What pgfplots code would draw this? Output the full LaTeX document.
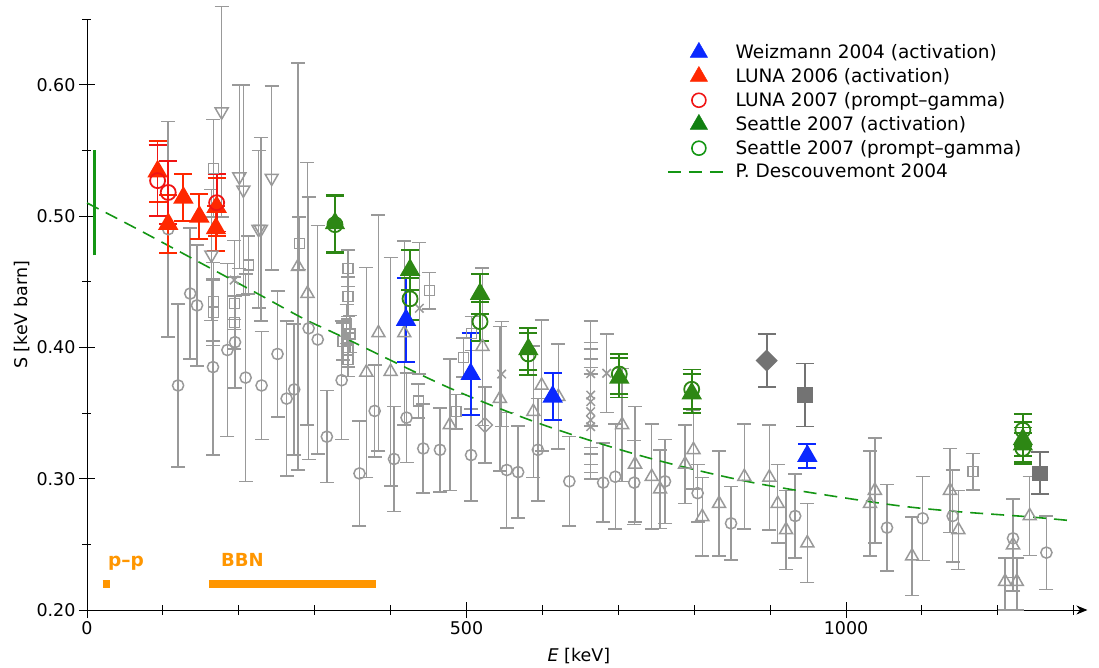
\documentclass[border=0pt]{standalone}
\usepackage{fontspec}
\setmainfont{DejaVu Sans}
\usepackage{pgfplots}
\pgfplotsset{compat=1.18}
\usetikzlibrary{arrows.meta}
\definecolor{wblue}{RGB}{10,40,255}
\definecolor{lunaA}{RGB}{255,40,0}
\definecolor{lunaP}{RGB}{240,20,20}
\definecolor{seat}{RGB}{45,135,20}
\definecolor{desc}{RGB}{20,150,20}
\definecolor{gr}{RGB}{153,153,153}
\definecolor{dgr}{RGB}{115,115,115}
\definecolor{org}{RGB}{255,150,0}
\pgfplotsset{
  markleg/.style={legend image code/.code={\draw[mark repeat=2,mark phase=2,##1] plot coordinates {(0pt,0pt)(31pt,0pt)(56pt,0pt)};}},
  lineleg/.style={legend image code/.code={\draw[##1] (0pt,0pt) -- (56pt,0pt);}},
  gbar/.style={error bars/.cd, error bar style={line width=1.5pt, gr}, error mark options={gr, rotate=90, mark size=7pt, line width=1.5pt}},
  cbar/.style={error bars/.cd, error bar style={line width=1.8pt, #1}, error mark options={#1, rotate=90, mark size=9pt, line width=1.8pt}},
}
\begin{document}
\begin{tikzpicture}[font=\fontsize{17.5}{21}\selectfont]
\useasboundingbox (-87pt,-58pt) rectangle (1012pt,610pt);
\begin{axis}[
  at={(0pt,0pt)}, anchor=south west,
  scale only axis, width=1000.4pt, height=590.85pt,
  xmin=0, xmax=1318, ymin=0.2, ymax=0.65,
  axis x line=bottom, axis y line=left,
  x axis line style={-{Stealth[length=11pt,width=9pt]}},
  y axis line style={-},
  axis line style={line width=0.9pt},
  xtick={0,500,1000}, xticklabels={0,500,1000},
  minor xtick={100,200,300,400,600,700,800,900,1100,1200,1300},
  ytick={0.2,0.3,0.4,0.5,0.6}, yticklabels={0.20,0.30,0.40,0.50,0.60},
  minor ytick={0.25,0.35,0.45,0.55,0.65},
  tick align=center, major tick length=16pt, minor tick length=9pt,
  tick style={black, line width=0.9pt},
  clip=false,
  xlabel={\textit{E} [keV]},
  xlabel style={at={(axis cs:648,0.2)}, anchor=base, yshift=-52pt, inner sep=0pt},
  ylabel={S [keV barn]},
  ylabel style={at={(axis cs:-79,0.4247)}, anchor=base, inner sep=0pt},
  legend style={draw=none, fill=none, at={(axis cs:764,0.6325)}, anchor=north west, row sep=4.3pt, inner sep=0pt,
    font=\fontsize{18.5}{22}\selectfont, /tikz/every odd column/.append style={column sep=9pt}},
  legend cell align=left,
  error bars/y dir=both, error bars/y explicit,
]
% --- orange ranges and green bar
\addplot[org, line width=8pt, forget plot] coordinates {(20.7,0.22) (30.3,0.22)};
\addplot[org, line width=8pt, forget plot] coordinates {(160.7,0.22) (380.3,0.22)};
\node[org, font=\fontsize{18.5}{21}\selectfont\bfseries, anchor=base west, inner sep=0pt] at (axis cs:27.7,0.2335) {p–p};
\node[org, font=\fontsize{18}{21}\selectfont\bfseries, anchor=base west, inner sep=0pt] at (axis cs:176.5,0.2335) {BBN};
\addplot[desc, line width=3pt, forget plot] coordinates {(10.5,0.47) (10.5,0.55)};
% --- gray circles
\addplot[gr, only marks, mark=o, mark size=5.6pt, line width=1.5pt, forget plot, gbar]
coordinates {
(107,0.490) +- (0,0.082) (120,0.371) +- (0,0.062) (136,0.441) +- (0,0.05) (145,0.432) +- (0,0.046)
(166,0.385) +- (0,0.067) (185,0.398) +- (0,0.066) (195,0.404) +- (0,0.035) (209,0.377) +- (0,0.079)
(230,0.371) +- (0,0.041) (251,0.395) +- (0,0.048) (263,0.361) +- (0,0.059) (273,0.368) +- (0,0.05)
(292,0.4145) +- (0,0.1) (304,0.406) +- (0,0.087) (316,0.332) +- (0,0.035) (335.5,0.375) +- (0,0.045)
(359,0.304) +- (0,0.04) (379,0.3516) +- (0,0.035) (404.5,0.315) +- (0,0.04) (421,0.3465) +- (0,0.034)
(443,0.323) +- (0,0.034) (465,0.322) +- (0,0.032) (506,0.318) +- (0,0.035) (553,0.3066) +- (0,0.044)
(568,0.305) +- (0,0.035) (594,0.322) +- (0,0.039) (635.5,0.298) +- (0,0.034) (680,0.297) +- (0,0.03)
(696,0.3015) +- (0,0.04) (721,0.297) +- (0,0.032) (761.5,0.298) +- (0,0.032) (804.5,0.289) +- (0,0.022)
(848.5,0.266) +- (0,0.028) (933,0.2716) +- (0,0.032) (1054,0.2627) +- (0,0.033) (1101,0.2698) +- (0,0.032)
(1140.5,0.2716) +- (0,0.035) (1220,0.2546) +- (0,0.03) (1264,0.2437) +- (0,0.028)
};
% --- gray triangles up
\addplot[gr, only marks, mark=triangle, mark size=7.5pt, line width=1.5pt, forget plot, gbar]
coordinates {
(278,0.4615) +- (0,0.155) (290.5,0.441) +- (0,0.10) (368,0.381) +- (0,0.08) (384,0.411) +- (0,0.09)
(400,0.3815) +- (0,0.087) (418,0.411) +- (0,0.07) (478,0.341) +- (0,0.05) (521,0.4006) +- (0,0.06)
(544,0.361) +- (0,0.055) (588,0.351) +- (0,0.05) (599,0.371) +- (0,0.05) (621,0.3625) +- (0,0.04)
(705,0.341) +- (0,0.043) (722,0.311) +- (0,0.044) (744,0.3015) +- (0,0.04) (755,0.292) +- (0,0.03)
(788,0.311) +- (0,0.03) (799,0.322) +- (0,0.03) (810.6,0.271) +- (0,0.03) (832.7,0.281) +- (0,0.04)
(866,0.3015) +- (0,0.04) (899,0.301) +- (0,0.04) (910,0.281) +- (0,0.03) (921,0.261) +- (0,0.03)
(949,0.251) +- (0,0.03) (1031.6,0.281) +- (0,0.04) (1038,0.291) +- (0,0.04) (1087,0.241) +- (0,0.03)
(1137,0.291) +- (0,0.032) (1148,0.261) +- (0,0.03) (1209.5,0.2216) += (0,0.018) -= (0,0.0216)
(1220,0.2495) +- (0,0.035) (1225,0.2216) += (0,0.018) -= (0,0.0216) (1242,0.2716) +- (0,0.03)
};
% --- gray triangles down
\addplot[gr, only marks, mark=triangle, mark size=7.5pt, mark options={rotate=180}, line width=1.5pt, forget plot, gbar]
coordinates {
(164,0.4704) +- (0,0.05) (177.4,0.5795) +- (0,0.08) (200.7,0.530) +- (0,0.07) (206,0.520) +- (0,0.08)
(226,0.490) +- (0,0.06) (229,0.490) +- (0,0.07) (243.3,0.529) +- (0,0.07)
};
% --- gray squares
\addplot[gr, only marks, mark=square, mark size=5pt, line width=1.5pt, forget plot, gbar]
coordinates {
(166.4,0.5364) +- (0,0.037) (166.4,0.4348) +- (0,0.03) (166.4,0.4265) +- (0,0.025) (194,0.4336) +- (0,0.02)
(194,0.4188) +- (0,0.02) (212.6,0.4627) +- (0,0.022) (279.7,0.4793) +- (0,0.02) (344,0.4602) +- (0,0.014)
(344,0.4386) +- (0,0.015) (342,0.4178) +- (0,0.015) (346.5,0.4102) +- (0,0.014) (337,0.4044) +- (0,0.014)
(344,0.398) +- (0,0.013) (344,0.3909) +- (0,0.013) (436.6,0.3592) +- (0,0.013) (451,0.4432) +- (0,0.014)
(486,0.351) +- (0,0.013) (495.8,0.3923) +- (0,0.015) (506.8,0.4107) +- (0,0.013) (1167,0.3053) +- (0,0.014)
};
% --- gray crosses
\addplot[gr, only marks, mark=x, mark size=6pt, line width=1.5pt, forget plot, gbar]
coordinates {
(194,0.4513) +- (0,0.03) (437.8,0.4298) +- (0,0.05) (546.3,0.3797) +- (0,0.04)
(663.6,0.380) +- (0,0.04) (663.6,0.3637) +- (0,0.04) (663.6,0.3587) +- (0,0.04)
(663.6,0.351) +- (0,0.04) (663.6,0.3447) +- (0,0.04) (663.6,0.3396) +- (0,0.04) (684.7,0.3803) +- (0,0.03)
};
% --- gray open diamond
\addplot[gr, only marks, mark=square, mark size=5.2pt, mark options={rotate=45}, line width=1.5pt, forget plot, gbar]
coordinates {(524.4,0.3409) +- (0,0.029)};
% --- dark gray filled
\addplot[dgr, only marks, mark=square*, mark size=7pt, mark options={rotate=45}, line width=1.6pt, forget plot, cbar=dgr]
coordinates {(895.5,0.390) +- (0,0.020)};
\addplot[dgr, only marks, mark=square*, mark size=7pt, line width=1.6pt, forget plot, cbar=dgr]
coordinates {(946,0.3637) +- (0,0.024) (1255.6,0.3041) +- (0,0.016)};
% --- Descouvemont
\addplot[desc, line width=1.6pt, dash pattern=on 13pt off 8pt, smooth, forget plot]
coordinates {(0,0.510) (70,0.489) (215,0.444) (285,0.422) (333,0.409) (478,0.369) (606,0.340) (742,0.3155)
(882,0.2965) (1049,0.281) (1137,0.2754) (1238,0.2711) (1297,0.268)};
% --- Weizmann
\addplot[wblue, only marks, mark=triangle*, mark size=10pt, line width=1.8pt, forget plot, cbar=wblue]
coordinates {(420.3,0.4209) +- (0,0.032) (505.5,0.3797) +- (0,0.031) (613.5,0.3625) +- (0,0.018) (949,0.3173) +- (0,0.009)};
% --- LUNA 2006
\addplot[lunaA, only marks, mark=triangle*, mark size=10pt, line width=1.8pt, forget plot, cbar=lunaA]
coordinates {(93,0.534) +- (0,0.023) (107,0.494) +- (0,0.022) (127,0.514) +- (0,0.018) (148,0.4996) +- (0,0.017)
(170.8,0.507) +- (0,0.022) (169.9,0.4907) +- (0,0.017)};
% --- LUNA 2007
\addplot[lunaP, only marks, mark=o, mark size=7.5pt, line width=1.8pt, forget plot, cbar=lunaP]
coordinates {(93,0.527) +- (0,0.027) (107,0.518) +- (0,0.024) (170.8,0.5102) +- (0,0.022)};
% --- Seattle activation
\addplot[seat, only marks, mark=triangle*, mark size=10pt, line width=1.8pt, forget plot, cbar=seat]
coordinates {(326.7,0.4945) +- (0,0.022) (425.6,0.459) +- (0,0.015) (517.8,0.4407) +- (0,0.015) (581.4,0.3986) +- (0,0.016)
(701.3,0.3769) +- (0,0.015) (796.7,0.365) +- (0,0.015) (1233,0.330) +- (0,0.013) (1233,0.326) +- (0,0.013)};
% --- Seattle prompt
\addplot[seat, only marks, mark=o, mark size=7.5pt, line width=1.8pt, forget plot, cbar=seat]
coordinates {(326.7,0.4935) +- (0,0.022) (425.6,0.437) +- (0,0.016) (517.8,0.4196) +- (0,0.015) (581.4,0.395) +- (0,0.016)
(701.3,0.3797) +- (0,0.015) (796.7,0.3681) +- (0,0.015) (1233,0.337) +- (0,0.012) (1233,0.323) +- (0,0.012)};
% --- legend
\addlegendimage{only marks, mark=triangle*, mark size=10pt, wblue, markleg}
\addlegendentry{Weizmann 2004 (activation)}
\addlegendimage{only marks, mark=triangle*, mark size=10pt, lunaA, markleg}
\addlegendentry{LUNA 2006 (activation)}
\addlegendimage{only marks, mark=o, mark size=7pt, line width=1.6pt, lunaP, markleg}
\addlegendentry{LUNA 2007 (prompt–gamma)}
\addlegendimage{only marks, mark=triangle*, mark size=10pt, desc!85!black, markleg}
\addlegendentry{Seattle 2007 (activation)}
\addlegendimage{only marks, mark=o, mark size=7pt, line width=1.6pt, desc, markleg}
\addlegendentry{Seattle 2007 (prompt–gamma)}
\addlegendimage{desc, line width=1.6pt, dash pattern=on 13pt off 8pt, lineleg}
\addlegendentry{P. Descouvemont 2004}
\end{axis}
\end{tikzpicture}
\end{document}
